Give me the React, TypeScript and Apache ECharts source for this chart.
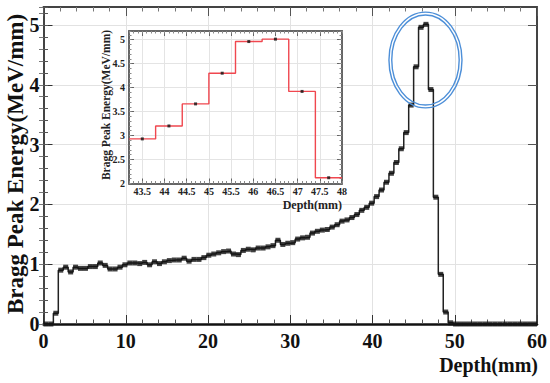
import React, { useEffect, useRef } from "react";
import * as echarts from "echarts";

// ---------- data ----------
const BIN_WIDTH = 0.6; // mm
const DEPTH_MIN = 0;
const DEPTH_MAX = 60;

// Bragg peak energy per 0.6 mm bin (MeV/mm), bins 0..99
const energy = [
  0, 0, 0.18, 0.9, 0.95, 0.87, 0.95, 0.93, 0.93, 0.96,
  0.96, 1.02, 0.98, 0.92, 0.92, 0.95, 0.99, 1.02, 1.02, 1.01,
  1.03, 0.99, 1.04, 1.01, 1.04, 1.06, 1.07, 1.07, 1.1, 1.05,
  1.08, 1.08, 1.11, 1.15, 1.17, 1.19, 1.21, 1.22, 1.17, 1.16,
  1.23, 1.25, 1.24, 1.27, 1.27, 1.29, 1.31, 1.4, 1.33, 1.35,
  1.36, 1.42, 1.44, 1.45, 1.52, 1.55, 1.57, 1.58, 1.62, 1.66,
  1.72, 1.74, 1.78, 1.83, 1.9, 1.95, 2.02, 2.13, 2.24, 2.37,
  2.52, 2.7, 2.93, 3.2, 3.66, 4.3, 4.96, 5.01, 3.92, 2.12,
  0.83, 0.2, 0.02, 0, 0, 0, 0, 0, 0, 0,
  0, 0, 0, 0, 0, 0, 0, 0, 0, 0,
];

const mainXTicks = [0, 10, 20, 30, 40, 50, 60];
const mainYTicks = [0, 1, 2, 3, 4, 5];
const MAIN_Y_MAX = 5.3;

const insetXTicks = [43.5, 44, 44.5, 45, 45.5, 46, 46.5, 47, 47.5, 48];
const insetYTicks = [2, 2.5, 3, 3.5, 4, 4.5, 5];
const INSET_X_MIN = 43.2;
const INSET_X_MAX = 48;
const INSET_Y_MIN = 2;
const INSET_Y_MAX = 5.18;

// annotation ellipse around the peak (data units)
const PEAK_MARK = { x: 46.44, y: 4.414, rx: 4.44, ry: 0.8 };

// ---------- derived ----------
const round2 = (v: number) => Math.round(v * 100) / 100;
const binLeft = energy.map((_, i) => round2(DEPTH_MIN + i * BIN_WIDTH));
const binCenter = energy.map((_, i) => round2(DEPTH_MIN + (i + 0.5) * BIN_WIDTH));

const mainStep: number[][] = energy.map((v, i) => [binLeft[i], v]);
mainStep.push([DEPTH_MAX, energy[energy.length - 1]]);
const mainMarkers = energy.map((v, i) => [binCenter[i], v]);

const insetIdx = energy
  .map((_, i) => i)
  .filter((i) => binCenter[i] > INSET_X_MIN && binCenter[i] < INSET_X_MAX);
const insetStep: number[][] = insetIdx.map((i) => [binLeft[i], energy[i]]);
{
  const last = insetIdx[insetIdx.length - 1];
  insetStep.push([round2(binLeft[last] + BIN_WIDTH), energy[last]]);
}
const insetMarkers = insetIdx.map((i) => [binCenter[i], energy[i]]);

// ---------- styles ----------
const SERIF = '"Liberation Serif", "Times New Roman", serif';
const FRAME = "#444";

export default function App() {
  const ref = useRef<HTMLDivElement>(null);

  useEffect(() => {
    if (!ref.current) return;
    const chart = echarts.init(ref.current, null, { renderer: "svg" });

    const noLabel = { show: false };
    const noSplit = { show: false };

    const option: any = {
      animation: false,
      backgroundColor: "#fff",
      grid: [
        { left: 43.5, top: 7, width: 493.5, height: 317, containLabel: false },
        {
          left: 129,
          top: 31,
          width: 213,
          height: 152.5,
          show: true,
          backgroundColor: "#fff",
          borderWidth: 0,
          z: 5,
        },
      ],
      xAxis: [
        // 0 main bottom
        {
          type: "value",
          gridIndex: 0,
          position: "bottom",
          min: DEPTH_MIN,
          max: DEPTH_MAX,
          interval: 10,
          axisLine: { show: true, onZero: false, lineStyle: { color: "#111", width: 2.5 } },
          axisTick: { show: true, inside: true, length: 9, lineStyle: { color: "#333", width: 1 } },
          minorTick: { show: true, splitNumber: 5, length: 4.5, lineStyle: { color: "#555", width: 1 } },
          axisLabel: {
            customValues: mainXTicks,
            margin: 7,
            fontFamily: SERIF,
            fontWeight: "bold",
            fontSize: 20,
            color: "#111",
          },
          splitLine: { show: true, lineStyle: { color: "#e2e2e2", width: 1 } },
        },
        // 1 main top
        {
          type: "value",
          gridIndex: 0,
          position: "top",
          min: DEPTH_MIN,
          max: DEPTH_MAX,
          interval: 10,
          axisLine: { show: true, onZero: false, lineStyle: { color: FRAME, width: 2 } },
          axisTick: { show: true, inside: true, length: 9, lineStyle: { color: "#555", width: 1 } },
          minorTick: { show: true, splitNumber: 5, length: 4.5, lineStyle: { color: "#777", width: 1 } },
          axisLabel: noLabel,
          splitLine: noSplit,
        },
        // 2 inset bottom
        {
          type: "value",
          gridIndex: 1,
          position: "bottom",
          min: INSET_X_MIN,
          max: INSET_X_MAX,
          z: 6,
          axisLine: { show: true, onZero: false, lineStyle: { color: "#666", width: 2 } },
          axisTick: { show: true, inside: true, length: 5, customValues: insetXTicks, lineStyle: { color: "#666" } },
          axisLabel: {
            customValues: insetXTicks,
            margin: 3,
            fontFamily: SERIF,
            fontWeight: "bold",
            fontSize: 10,
            color: "#222",
          },
          splitLine: { show: true, lineStyle: { color: "#e4e4e4", width: 1 } },
        },
        // 3 inset bottom minor
        {
          type: "value",
          gridIndex: 1,
          position: "bottom",
          min: INSET_X_MIN,
          max: INSET_X_MAX,
          interval: 0.1,
          z: 6,
          axisLine: { show: false },
          axisTick: { show: true, inside: true, length: 2.5, lineStyle: { color: "#888" } },
          axisLabel: noLabel,
          splitLine: noSplit,
        },
        // 4 inset top
        {
          type: "value",
          gridIndex: 1,
          position: "top",
          min: INSET_X_MIN,
          max: INSET_X_MAX,
          z: 6,
          axisLine: { show: true, onZero: false, lineStyle: { color: "#666", width: 2 } },
          axisTick: { show: true, inside: true, length: 5, customValues: insetXTicks, lineStyle: { color: "#666" } },
          axisLabel: noLabel,
          splitLine: noSplit,
        },
        // 5 inset top minor
        {
          type: "value",
          gridIndex: 1,
          position: "top",
          min: INSET_X_MIN,
          max: INSET_X_MAX,
          interval: 0.1,
          z: 6,
          axisLine: { show: false },
          axisTick: { show: true, inside: true, length: 2.5, lineStyle: { color: "#888" } },
          axisLabel: noLabel,
          splitLine: noSplit,
        },
      ],
      yAxis: [
        // 0 main left
        {
          type: "value",
          gridIndex: 0,
          position: "left",
          min: 0,
          max: MAIN_Y_MAX,
          interval: 1,
          axisLine: { show: true, onZero: false, lineStyle: { color: FRAME, width: 2 } },
          axisTick: { show: true, inside: true, length: 9, customValues: mainYTicks, lineStyle: { color: "#333" } },
          axisLabel: {
            customValues: mainYTicks,
            margin: 4,
            fontFamily: SERIF,
            fontWeight: "bold",
            fontSize: 20,
            color: "#111",
          },
          splitLine: { show: true, lineStyle: { color: "#e2e2e2", width: 1 } },
        },
        // 1 main left minor
        {
          type: "value",
          gridIndex: 0,
          position: "left",
          min: 0,
          max: MAIN_Y_MAX,
          interval: 0.2,
          axisLine: { show: false },
          axisTick: { show: true, inside: true, length: 4.5, lineStyle: { color: "#555" } },
          axisLabel: noLabel,
          splitLine: noSplit,
        },
        // 2 main right
        {
          type: "value",
          gridIndex: 0,
          position: "right",
          min: 0,
          max: MAIN_Y_MAX,
          interval: 1,
          axisLine: { show: true, onZero: false, lineStyle: { color: FRAME, width: 2 } },
          axisTick: { show: true, inside: true, length: 9, customValues: mainYTicks, lineStyle: { color: "#555" } },
          axisLabel: noLabel,
          splitLine: noSplit,
        },
        // 3 main right minor
        {
          type: "value",
          gridIndex: 0,
          position: "right",
          min: 0,
          max: MAIN_Y_MAX,
          interval: 0.2,
          axisLine: { show: false },
          axisTick: { show: true, inside: true, length: 4.5, lineStyle: { color: "#777" } },
          axisLabel: noLabel,
          splitLine: noSplit,
        },
        // 4 inset left
        {
          type: "value",
          gridIndex: 1,
          position: "left",
          min: INSET_Y_MIN,
          max: INSET_Y_MAX,
          interval: 0.5,
          z: 6,
          axisLine: { show: true, onZero: false, lineStyle: { color: "#666", width: 2 } },
          axisTick: { show: true, inside: true, length: 5, customValues: insetYTicks, lineStyle: { color: "#666" } },
          axisLabel: {
            customValues: insetYTicks,
            margin: 4,
            fontFamily: SERIF,
            fontWeight: "bold",
            fontSize: 10,
            color: "#222",
          },
          splitLine: { show: true, lineStyle: { color: "#e4e4e4", width: 1 } },
        },
        // 5 inset left minor
        {
          type: "value",
          gridIndex: 1,
          position: "left",
          min: INSET_Y_MIN,
          max: INSET_Y_MAX,
          interval: 0.1,
          z: 6,
          axisLine: { show: false },
          axisTick: { show: true, inside: true, length: 2.5, lineStyle: { color: "#888" } },
          axisLabel: noLabel,
          splitLine: noSplit,
        },
        // 6 inset right
        {
          type: "value",
          gridIndex: 1,
          position: "right",
          min: INSET_Y_MIN,
          max: INSET_Y_MAX,
          interval: 0.5,
          z: 6,
          axisLine: { show: true, onZero: false, lineStyle: { color: "#666", width: 2 } },
          axisTick: { show: true, inside: true, length: 5, customValues: insetYTicks, lineStyle: { color: "#666" } },
          axisLabel: noLabel,
          splitLine: noSplit,
        },
        // 7 inset right minor
        {
          type: "value",
          gridIndex: 1,
          position: "right",
          min: INSET_Y_MIN,
          max: INSET_Y_MAX,
          interval: 0.1,
          z: 6,
          axisLine: { show: false },
          axisTick: { show: true, inside: true, length: 2.5, lineStyle: { color: "#888" } },
          axisLabel: noLabel,
          splitLine: noSplit,
        },
      ],
      series: [
        {
          type: "line",
          name: "histogram",
          xAxisIndex: 0,
          yAxisIndex: 0,
          data: mainStep,
          step: "end",
          showSymbol: false,
          symbol: "none",
          lineStyle: { color: "#222", width: 1.5 },
          z: 3,
        },
        {
          type: "scatter",
          name: "bins",
          xAxisIndex: 0,
          yAxisIndex: 0,
          data: mainMarkers,
          symbol: "rect",
          symbolSize: [5, 5],
          itemStyle: { color: "#111" },
          z: 4,
        },
        {
          type: "line",
          name: "inset histogram",
          xAxisIndex: 2,
          yAxisIndex: 4,
          data: insetStep,
          step: "end",
          showSymbol: false,
          symbol: "none",
          lineStyle: { color: "#f0474f", width: 1.4 },
          z: 7,
        },
        {
          type: "scatter",
          name: "inset bins",
          xAxisIndex: 2,
          yAxisIndex: 4,
          data: insetMarkers,
          symbol: "rect",
          symbolSize: [3, 3],
          itemStyle: { color: "#111" },
          z: 8,
        },
      ],
    };

    chart.setOption(option);

    const c = chart.convertToPixel({ xAxisIndex: 0, yAxisIndex: 0 }, [PEAK_MARK.x, PEAK_MARK.y]) as number[];
    const e = chart.convertToPixel({ xAxisIndex: 0, yAxisIndex: 0 }, [
      PEAK_MARK.x + PEAK_MARK.rx,
      PEAK_MARK.y + PEAK_MARK.ry,
    ]) as number[];
    const rx = Math.abs(e[0] - c[0]);
    const ry = Math.abs(c[1] - e[1]);
    const ringColor = "#4d8fd8";

    chart.setOption({
      graphic: [
        {
          id: "yTitle",
          type: "text",
          x: 15,
          y: 164,
          rotation: Math.PI / 2,
          z: 10,
          style: {
            text: "Bragg Peak Energy(MeV/mm)",
            fontFamily: SERIF,
            fontWeight: "bold",
            fontSize: 23,
            fill: "#111",
            align: "center",
            verticalAlign: "middle",
          },
        },
        {
          id: "xTitle",
          type: "text",
          x: 538,
          y: 365,
          z: 10,
          style: {
            text: "Depth(mm)",
            fontFamily: SERIF,
            fontWeight: "bold",
            fontSize: 20,
            fill: "#111",
            align: "right",
            verticalAlign: "middle",
          },
        },
        {
          id: "insetYTitle",
          type: "text",
          x: 106,
          y: 105,
          rotation: Math.PI / 2,
          z: 10,
          style: {
            text: "Bragg Peak Energy(MeV/mm)",
            fontFamily: SERIF,
            fontWeight: "bold",
            fontSize: 11.5,
            fill: "#222",
            align: "center",
            verticalAlign: "middle",
          },
        },
        {
          id: "insetXTitle",
          type: "text",
          x: 342,
          y: 205,
          z: 10,
          style: {
            text: "Depth(mm)",
            fontFamily: SERIF,
            fontWeight: "bold",
            fontSize: 12,
            fill: "#222",
            align: "right",
            verticalAlign: "middle",
          },
        },
        {
          id: "ringOuter",
          type: "ellipse",
          z: 10,
          shape: { cx: c[0], cy: c[1], rx: rx, ry: ry },
          style: { fill: "none", stroke: ringColor, lineWidth: 1.4 },
        },
        {
          id: "ringInner",
          type: "ellipse",
          z: 10,
          shape: { cx: c[0], cy: c[1], rx: rx - 2.8, ry: ry - 2.8 },
          style: { fill: "none", stroke: ringColor, lineWidth: 1.4 },
        },
      ],
    });

    return () => chart.dispose();
  }, []);

  return (
    <div
      ref={ref}
      style={{ position: "fixed", left: 0, top: 0, width: 550, height: 383, background: "#fff" }}
    />
  );
}
